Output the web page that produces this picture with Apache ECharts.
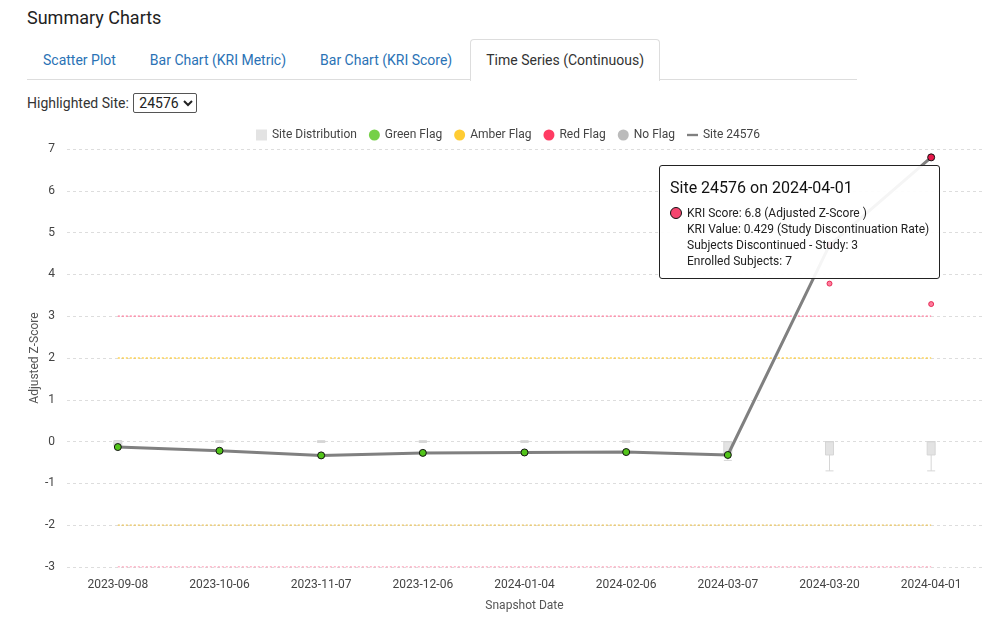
<!DOCTYPE html>
<html>
<head>
<meta charset="utf-8">
<script src="https://cdn.jsdelivr.net/npm/echarts@6/dist/echarts.min.js"></script>
<style>
  body { margin: 0; width: 992px; height: 619px; overflow: hidden; background: #fff; font-family: Roboto, "Noto Sans", sans-serif; color: #333; position: relative; }
  .title { position: absolute; left: 27px; top: 7px; font-size: 18px; color: #222; }
  .tabs { position: absolute; left: 27px; top: 39px; width: 830px; height: 41px; border-bottom: 1px solid #ddd; display: flex; box-sizing: border-box; }
  .tabs a { display: block; padding: 0 15px; height: 40px; line-height: 41px; font-size: 14px; color: #2a72b5; text-decoration: none; margin-right: 2px; border: 1px solid transparent; border-bottom: none; box-sizing: border-box; }
  .tabs a.on { color: #333; border-color: #ddd; border-radius: 4px 4px 0 0; background: #fff; height: 42px; }
  .site { position: absolute; left: 27px; top: 93px; font-size: 14px; color: #333; }
  .site select { font-size: 14px; font-family: Roboto, sans-serif; padding: 0 1px; height: 20px; margin-left: 1px; border: 1px solid #555; border-radius: 2px; background: #fff; color: #222; }
  #chart { position: absolute; left: 24px; top: 120px; width: 968px; height: 499px; }
  .tt-title { font-size: 16px; color: #111; margin: 2px 0 7px 0; }
  .tt-row { font-size: 12px; color: #222; line-height: 16px; padding-left: 17px; position: relative; }
  .tt-dot { position: absolute; left: 0; top: 2px; width: 10px; height: 10px; border-radius: 50%; border: 1px solid #111; }
</style>
</head>
<body>
<div class="title">Summary Charts</div>
<div class="tabs">
  <a>Scatter Plot</a><a>Bar Chart (KRI Metric)</a><a>Bar Chart (KRI Score)</a><a class="on">Time Series (Continuous)</a>
</div>
<div class="site">Highlighted Site: <select><option>24576</option></select></div>
<div id="chart"></div>
<script>
// 快照日期(類別軸)
const snapshotDates = ['2023-09-08', '2023-10-06', '2023-11-07', '2023-12-06', '2024-01-04', '2024-02-06', '2024-03-07', '2024-03-20', '2024-04-01'];

// 所選站點 24576 的 KRI 分數與旗標
const siteId = '24576';
const siteScores = [-0.13, -0.22, -0.33, -0.27, -0.26, -0.25, -0.32, 4.7, 6.8];
const siteFlags = ['green', 'green', 'green', 'green', 'green', 'green', 'green', 'red', 'red'];
const siteKriValues = [null, null, null, null, null, null, null, null, 0.429];
const siteNumerators = [null, null, null, null, null, null, null, null, 3];
const siteDenominators = [null, null, null, null, null, null, null, null, 7];

// 所有站點分佈(箱形圖)
const distMin    = [-0.12, -0.02, -0.02, -0.02, -0.02, -0.02, -0.45, -0.7, -0.7];
const distQ1     = [-0.1, -0.01, -0.01, -0.01, -0.01, -0.01, -0.28, -0.32, -0.32];
const distMedian = [-0.04, 0, 0, 0, 0, 0, 0, 0, 0];
const distQ3     = [0.02, 0.01, 0.01, 0.01, 0.01, 0.01, 0, 0, 0];
const distMax    = [0.02, 0.02, 0.02, 0.02, 0.02, 0.02, 0, 0, 0];

// 紅旗離群點
const redOutlierDates = ['2024-03-20', '2024-04-01'];
const redOutlierScores = [3.78, 3.29];

// 門檻與軸刻度
const redThreshold = 3;
const amberThreshold = 2;
const yMin = -3, yMax = 7, yStep = 1;

const flagColor = { green: '#52c41a', amber: '#ffbf00', red: '#ff0a3c', none: '#aaaaaa' };

const chart = echarts.init(document.getElementById('chart'));

const thresholdLine = (v, color) => ({
  type: 'line', silent: true, symbol: 'none', animation: false,
  data: snapshotDates.map(() => v),
  lineStyle: { color, width: 1.2, type: [2, 2] },
  tooltip: { show: false }, z: 1,
});

const tipHtml = (i) => `
  <div class="tt-title">Site ${siteId} on ${snapshotDates[i]}</div>
  <div class="tt-row"><span class="tt-dot" style="background:#f5466f"></span>KRI Score: ${siteScores[i]} (Adjusted Z-Score )</div>
  <div class="tt-row">KRI Value: ${siteKriValues[i]} (Study Discontinuation Rate)</div>
  <div class="tt-row">Subjects Discontinued - Study: ${siteNumerators[i]}</div>
  <div class="tt-row">Enrolled Subjects: ${siteDenominators[i]}</div>`;

chart.setOption({
  animation: false,
  textStyle: { fontFamily: 'Roboto, sans-serif' },
  legend: {
    top: 4, left: 'center', itemGap: 12, itemWidth: 11, itemHeight: 11,
    textStyle: { fontSize: 12, color: '#444' },
    data: [
      { name: 'Site Distribution', icon: 'rect', itemStyle: { color: '#e3e3e3', borderWidth: 0 } },
      { name: 'Green Flag', icon: 'circle' },
      { name: 'Amber Flag', icon: 'circle' },
      { name: 'Red Flag', icon: 'circle', itemStyle: { color: flagColor.red, borderWidth: 0 } },
      { name: 'No Flag', icon: 'circle' },
      { name: 'Site ' + siteId, icon: 'path://M0,5 L14,5 L14,8 L0,8 Z', itemStyle: { color: '#808080' } },
    ],
  },
  tooltip: {
    trigger: 'item', transitionDuration: 0, alwaysShowContent: true,
    backgroundColor: 'rgba(255,255,255,0.92)', borderColor: '#222', borderWidth: 1, padding: [9, 10, 9, 10],
    extraCssText: 'box-shadow:none;border-radius:3px;',
    position: (pt) => [pt[0] - 272, pt[1] + 8],
    formatter: (p) => (p.seriesName === 'Site ' + siteId ? tipHtml(p.dataIndex) : ''),
  },
  grid: { left: 43, right: 10, top: 29, bottom: 52, outerBoundsMode: 'none', containLabel: false },
  xAxis: {
    type: 'category', data: snapshotDates, boundaryGap: true,
    name: 'Snapshot Date', nameLocation: 'middle', nameGap: 33, nameMoveOverlap: false,
    nameTextStyle: { fontSize: 12, color: '#555' },
    axisLine: { show: false }, axisTick: { show: false },
    axisLabel: { fontSize: 12, color: '#444', margin: 12 },
  },
  yAxis: {
    type: 'value', min: yMin, max: yMax, interval: yStep,
    name: 'Adjusted Z-Score', nameLocation: 'middle', nameGap: 26, nameMoveOverlap: false,
    nameTextStyle: { fontSize: 12, color: '#555' },
    axisLabel: { fontSize: 12, color: '#444', margin: 12 },
    splitLine: { lineStyle: { color: '#ddd', type: [3, 3] } },
  },
  series: [
    thresholdLine(redThreshold, '#ff7a9c'),
    thresholdLine(amberThreshold, '#ffbf00'),
    thresholdLine(-amberThreshold, '#e9c35a'),
    thresholdLine(-redThreshold, '#ff7a9c'),
    {
      name: 'Site Distribution', type: 'boxplot', boxWidth: [8, 8], silent: true,
      itemStyle: { color: '#e3e3e3', borderColor: '#d6d6d6', borderWidth: 1 },
      data: snapshotDates.map((d, i) => [distMin[i], distQ1[i], distMedian[i], distQ3[i], distMax[i]]),
      tooltip: { show: false }, z: 2,
    },
    { name: 'Green Flag', type: 'scatter', data: [], itemStyle: { color: flagColor.green } },
    { name: 'Amber Flag', type: 'scatter', data: [], itemStyle: { color: flagColor.amber } },
    {
      name: 'Red Flag', type: 'scatter', symbolSize: 5, silent: true,
      data: redOutlierDates.map((d, i) => [d, redOutlierScores[i]]),
      itemStyle: { color: '#ff5c84', borderColor: '#e0103f', borderWidth: 1 },
      tooltip: { show: false }, z: 3,
    },
    { name: 'No Flag', type: 'scatter', data: [], itemStyle: { color: flagColor.none } },
    {
      name: 'Site ' + siteId, type: 'line', symbol: 'circle', symbolSize: 7, z: 5,
      lineStyle: { color: '#808080', width: 3 },
      itemStyle: { color: '#808080' },
      data: siteScores.map((v, i) => ({
        value: v,
        itemStyle: { color: siteFlags[i] === 'red' ? '#e8174a' : flagColor[siteFlags[i]], borderColor: '#111', borderWidth: 1 },
      })),
      emphasis: { disabled: true },
    },
  ],
});

chart.dispatchAction({ type: 'showTip', seriesIndex: 9, dataIndex: 8 });
</script>
</body>
</html>
